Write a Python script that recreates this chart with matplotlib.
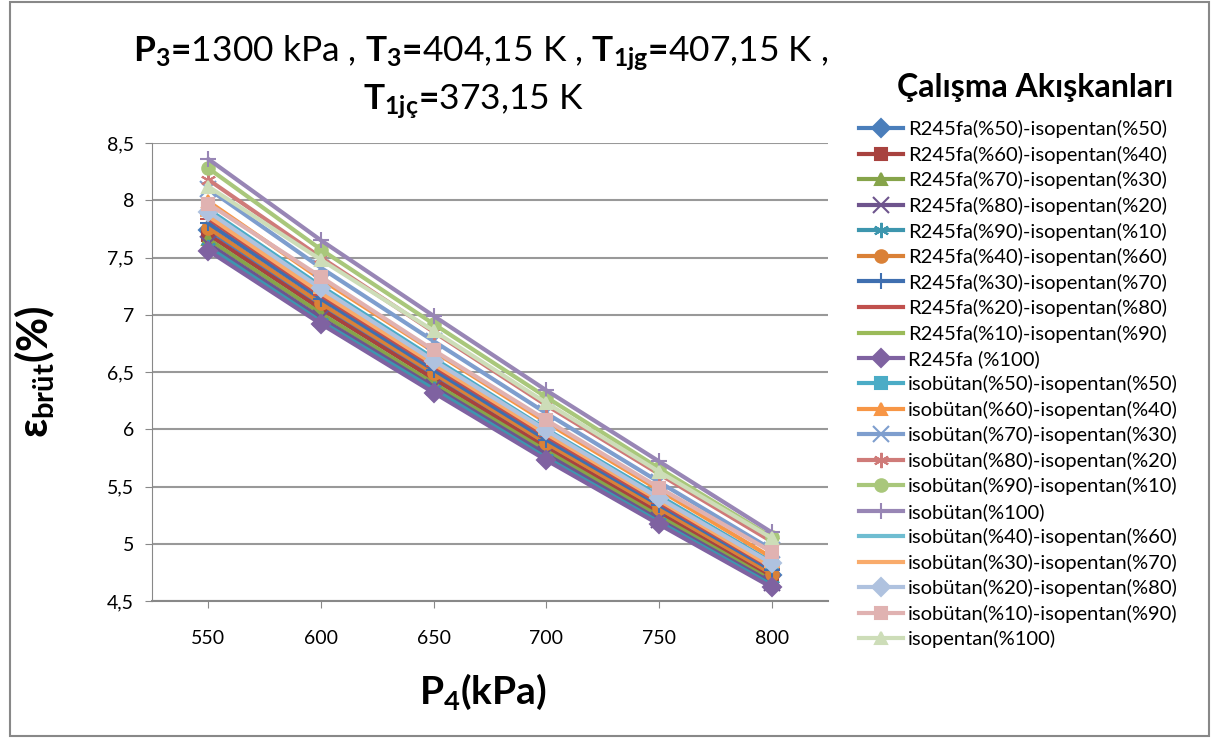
import numpy as np
from matplotlib import pyplot as plt
import matplotlib.patches as mpatches

plt.rcParams['font.family'] = ['Lato', 'DejaVu Sans']
plt.rcParams['mathtext.fontset'] = 'custom'
plt.rcParams['mathtext.rm'] = 'Lato'
plt.rcParams['mathtext.bf'] = 'Lato:bold'
plt.rcParams['mathtext.it'] = 'Lato:italic'

p4 = [550, 600, 650, 700, 750, 800]

labels = [
    'R245fa(%50)-isopentan(%50)',
    'R245fa(%60)-isopentan(%40)',
    'R245fa(%70)-isopentan(%30)',
    'R245fa(%80)-isopentan(%20)',
    'R245fa(%90)-isopentan(%10)',
    'R245fa(%40)-isopentan(%60)',
    'R245fa(%30)-isopentan(%70)',
    'R245fa(%20)-isopentan(%80)',
    'R245fa(%10)-isopentan(%90)',
    'R245fa (%100)',
    'isobütan(%50)-isopentan(%50)',
    'isobütan(%60)-isopentan(%40)',
    'isobütan(%70)-isopentan(%30)',
    'isobütan(%80)-isopentan(%20)',
    'isobütan(%90)-isopentan(%10)',
    'isobütan(%100)',
    'isobütan(%40)-isopentan(%60)',
    'isobütan(%30)-isopentan(%70)',
    'isobütan(%20)-isopentan(%80)',
    'isobütan(%10)-isopentan(%90)',
    'isopentan(%100)',
]

values = [
    [7.74, 7.08, 6.47, 5.87, 5.29, 4.73],
    [7.70, 7.05, 6.44, 5.84, 5.27, 4.70],
    [7.66, 7.01, 6.40, 5.81, 5.24, 4.68],
    [7.62, 6.97, 6.37, 5.78, 5.21, 4.66],
    [7.59, 6.94, 6.35, 5.75, 5.19, 4.64],
    [7.76, 7.10, 6.49, 5.88, 5.31, 4.74],
    [7.80, 7.14, 6.52, 5.91, 5.34, 4.77],
    [7.84, 7.17, 6.55, 5.94, 5.36, 4.79],
    [7.90, 7.23, 6.60, 5.99, 5.40, 4.83],
    [7.56, 6.92, 6.32, 5.73, 5.17, 4.62],
    [7.92, 7.25, 6.62, 6.00, 5.42, 4.84],
    [7.99, 7.31, 6.68, 6.06, 5.47, 4.88],
    [8.10, 7.41, 6.77, 6.14, 5.54, 4.95],
    [8.18, 7.50, 6.85, 6.21, 5.61, 5.02],
    [8.28, 7.57, 6.92, 6.28, 5.66, 5.06],
    [8.36, 7.65, 6.99, 6.34, 5.72, 5.10],
    [7.88, 7.21, 6.59, 5.97, 5.39, 4.81],
    [7.86, 7.19, 6.57, 5.96, 5.38, 4.80],
    [7.90, 7.23, 6.60, 5.99, 5.40, 4.83],
    [7.97, 7.33, 6.69, 6.08, 5.49, 4.93],
    [8.12, 7.48, 6.86, 6.23, 5.63, 5.05],
]

colors = ['#4A7EBB', '#A8423F', '#86A44A', '#6E548D', '#3D96AE', '#DA8137',
          '#3F6FB0', '#C0504D', '#9BBB59', '#7F62A1', '#4BACC6', '#F79646',
          '#7E9ECE', '#CF7B79', '#A9C77B', '#9886B5', '#6FBDD1', '#F9AB6B',
          '#AFC2DF', '#E0B2B1', '#CDDDB8']
markers = ['D', 's', '^', 'x', (6, 2, 0), 'o', '+', '_', '_', 'D', 's', '^',
           'x', (6, 2, 0), 'o', '+', '_', '_', 'D', 's', '^']

fig = plt.figure(figsize=(12.13, 7.38), dpi=100)
ax = fig.add_axes([0.1253, 0.1856, 0.5573, 0.6206])

x = np.arange(len(p4))
for i in range(len(labels)):
    ms = 9
    if markers[i] in ('x', '+', '_') or isinstance(markers[i], tuple):
        ms = 11
    ax.plot(x, values[i], color=colors[i], marker=markers[i], markersize=ms,
            markeredgewidth=1.5, linewidth=3, label=labels[i])

ax.set_xlim(-0.5, 5.5)
ax.set_ylim(4.5, 8.5)
ax.set_xticks(x)
ax.set_xticklabels([str(v) for v in p4])
yt = np.arange(4.5, 8.51, 0.5)
ax.set_yticks(yt)
ax.set_yticklabels([('%g' % v).replace('.', ',') for v in yt])
ax.tick_params(axis='both', labelsize=14, colors='#888888', labelcolor='black', length=5)
ax.tick_params(axis='x', pad=16)
ax.tick_params(axis='y', pad=8)
ax.grid(axis='y', color='#999999', linewidth=1.5)
ax.set_axisbelow(True)
for s in ['top', 'right']:
    ax.spines[s].set_visible(False)
ax.spines['left'].set_color('#888888')
ax.spines['bottom'].set_color('#888888')
ax.spines['bottom'].set_linewidth(1.5)

ax.set_xlabel(r'$\mathbf{P_4(kPa)}$', fontsize=28)
ax.xaxis.set_label_coords(0.49, -0.155)
ax.set_ylabel(r'$\mathbf{\epsilon}_{\mathbf{brüt}}\mathbf{(\%)}$', fontsize=30)
ax.yaxis.set_label_coords(-0.14, 0.5)

eq = r'\hspace{-0.2}=\hspace{-0.2}'
fig.text(0.396, 0.927,
         r'$\mathbf{P_3' + eq + r'}$1300 kPa , $\mathbf{T_3' + eq + r'}$404,15 K , $\mathbf{T_{1jg}'
         + eq + r'}$407,15 K ,',
         ha='center', va='center', fontsize=25.5)
fig.text(0.39, 0.862, r'$\mathbf{T_{1jç}' + eq + r'}$373,15 K', ha='center', va='center',
         fontsize=25.5)

fig.text(1035 / 1213, 1 - 88 / 738, 'Çalışma Akışkanları', ha='center', va='center',
         fontsize=23, fontweight='bold')

ax.legend(loc='upper left', bbox_to_anchor=(1.0335, 1.067), frameon=False,
          fontsize=14.5, handlelength=2.2, handletextpad=0.25,
          labelspacing=0.37, borderaxespad=0)

fig.patches.append(mpatches.Rectangle((0.008, 0.003), 0.989, 0.994, transform=fig.transFigure,
                                      fill=False, edgecolor='#888888', linewidth=1.5))

fig.savefig('out.png', dpi=100)
